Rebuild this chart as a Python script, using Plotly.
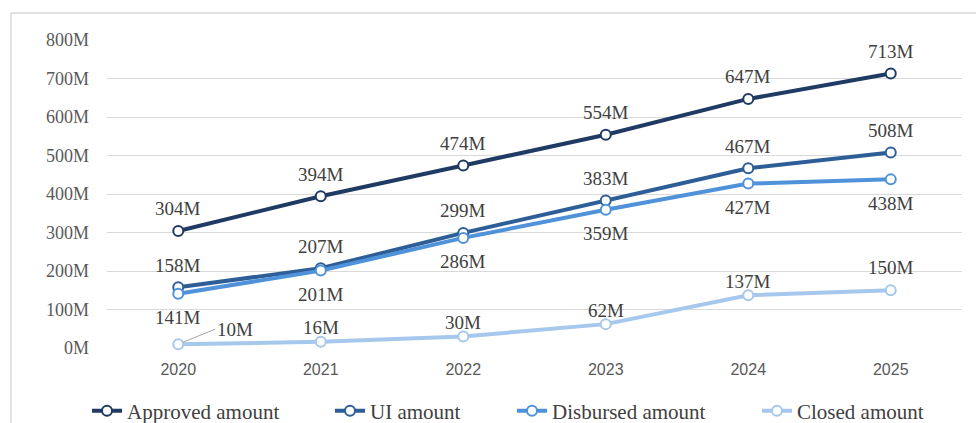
import plotly.graph_objects as go

years = ["2020", "2021", "2022", "2023", "2024", "2025"]
approved = [304, 394, 474, 554, 647, 713]
ui = [158, 207, 299, 383, 467, 508]
disbursed = [141, 201, 286, 359, 427, 438]
closed = [10, 16, 30, 62, 137, 150]

# (name, values, colour, label offset in px (+ above / - below), legend id, legend x px)
series = [
    ("Approved amount", approved, "#1F3B63", 22, "legend", 82),
    ("UI amount", ui, "#2E5E97", 22, "legend2", 325),
    ("Disbursed amount", disbursed, "#4F92DA", -24, "legend3", 507),
    ("Closed amount", closed, "#A6C8EC", 14, "legend4", 752),
]
label_shift_override = {("Closed amount", 5): 23}

LABEL_FONT = dict(family="Liberation Serif", size=19, color="#404040")

fig = go.Figure()
legends = {}
for name, vals, color, off, leg, lx in series:
    fig.add_trace(go.Scatter(
        x=years, y=vals, name=name, mode="lines+markers",
        line=dict(color=color, width=4),
        marker=dict(symbol="circle", size=10, color="white", line=dict(color=color, width=2)),
        cliponaxis=False, legend=leg,
    ))
    for i, v in enumerate(vals):
        if name == "Closed amount" and i == 0:
            continue
        fig.add_annotation(
            x=i, y=v, text=f"{v}M", showarrow=False,
            yshift=label_shift_override.get((name, i), off),
            xanchor="center", yanchor="middle", font=LABEL_FONT,
        )
    legends[leg] = dict(
        orientation="h", xref="container", yref="container",
        x=(lx + 5) / 976, xanchor="left", y=(423 - 411) / 423, yanchor="middle",
        font=dict(family="Liberation Serif", size=21, color="#404040"),
        bgcolor="rgba(0,0,0,0)", borderwidth=0,
    )

fig.add_annotation(
    x=0, y=closed[0], text=f"{closed[0]}M", showarrow=True,
    ax=37, ay=-15, arrowhead=0, arrowwidth=1, arrowcolor="#A6A6A6", standoff=5,
    xanchor="left", yanchor="middle",
    font=LABEL_FONT,
)

# outer frame
fig.add_shape(type="line", xref="paper", yref="paper", x0=-0.1123, x1=1.02, y0=1.0877, y1=1.0877,
              line=dict(color="#D9D9D9", width=1.5))
fig.add_shape(type="line", xref="paper", yref="paper", x0=-0.1123, x1=-0.1123, y0=-0.26, y1=1.0877,
              line=dict(color="#D9D9D9", width=1.5))

fig.update_layout(
    width=976, height=423,
    margin=dict(l=107, r=14, t=40, b=75),
    paper_bgcolor="white", plot_bgcolor="white",
    showlegend=True,
    xaxis=dict(type="category", range=[-0.5, 5.5], showgrid=False, zeroline=False, showline=False,
               ticks="", ticklabelstandoff=10,
               tickfont=dict(family="Liberation Sans", size=16, color="#595959")),
    yaxis=dict(range=[0, 800], tickvals=[0, 100, 200, 300, 400, 500, 600, 700, 800],
               ticktext=["0M", "100M", "200M", "300M", "400M", "500M", "600M", "700M", "800M"],
               showgrid=True, gridcolor="#D9D9D9", gridwidth=1, zeroline=False, showline=False,
               ticks="", ticklabelstandoff=17,
               tickfont=dict(family="Liberation Serif", size=18, color="#595959")),
    **legends,
)

fig.write_html("out.html")
